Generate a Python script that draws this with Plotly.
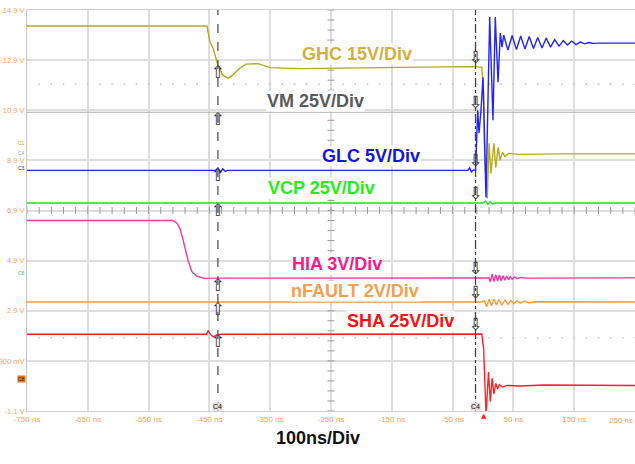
import numpy as np
import plotly.graph_objects as go

# ---------------- data (time in ns, value in screen volts) ----------------
x_tick_vals = [-750, -650, -550, -450, -350, -250, -150, -50, 50, 150]
x_tick_text = ["-750 ns", "-650 ns", "-550 ns", "-450 ns", "-350 ns", "-250 ns",
               "-150 ns", "-50 ns", "50 ns", "150 ns"]
x_edge_label = "250 ns"
y_tick_vals = [14.9, 12.9, 10.9, 8.9, 6.9, 4.9, 2.9, 0.9, -1.1]
y_tick_text = ["14.9 V", "12.9 V", "10.9 V", "8.9 V", "6.9 V", "4.9 V", "2.9 V", "900 mV", "-1.1 V"]

ghc_t = [-750, -454, -449, -444, -436, -428, -419, -412, -400, -390, -370, -350, -300,
         -200, -100, -20, -2, 1, 3, 7, 10, 13, 18, 21, 25, 28, 32, 36, 42, 60, 120, 250]
ghc_v = [14.26, 14.26, 13.62, 13.38, 12.7, 12.3, 12.18, 12.3, 12.58, 12.74, 12.76, 12.6, 12.56,
         12.6, 12.62, 12.64, 12.62, 11.58, 8.9, 7.38, 9.58, 8.38, 9.58, 8.62, 9.42, 8.9, 9.22,
         9.06, 9.18, 9.14, 9.16, 9.16]

vm_t = [-750, -300, 0, 250]
vm_v = [10.82, 10.82, 10.82, 10.82]

glc_t = [-750, -440, -436, -432, -428, -424, -420, -25, -22, -19, -16, -12.3, -8.7, -6.6,
         -3.3, 0, 4.9, 11, 16.4, 20.2, 24.7, 28.5, 31.3, 34, 41, 48, 55, 62, 69, 76, 83, 90,
         97, 104, 111, 118, 125, 132, 139, 146, 153, 160, 167, 174, 181, 195, 250]
glc_v = [8.5, 8.5, 8.6, 8.42, 8.56, 8.46, 8.5, 8.5, 8.6, 8.44, 8.52, 8.5, 10.9, 9.98,
         10.9, 12.22, 7.42, 14.62, 10.5, 14.62, 12.02, 13.98, 13.42, 13.9, 13.3, 13.88, 13.32,
         13.86, 13.34, 13.84, 13.36, 13.8, 13.38, 13.78, 13.42, 13.72, 13.46, 13.68, 13.5,
         13.66, 13.52, 13.62, 13.55, 13.6, 13.57, 13.58, 13.58]

vcp_t = [-750, 0, 4, 8, 12, 16, 20, 250]
vcp_v = [7.2, 7.2, 7.28, 7.14, 7.25, 7.16, 7.2, 7.2]

hia_t = [-750, -510, -503, -498, -494, -490, -485, -479, -471, -458, -440, 10, 12, 15, 18,
         21, 24, 27, 30, 33, 36, 39, 42, 45, 48, 52, 56, 62, 70, 250]
hia_v = [6.5, 6.5, 6.38, 6.15, 5.8, 5.4, 4.9, 4.47, 4.28, 4.19, 4.2, 4.21, 4.05, 4.36, 4.06,
         4.34, 4.08, 4.33, 4.1, 4.3, 4.12, 4.28, 4.14, 4.26, 4.16, 4.25, 4.18, 4.23, 4.2, 4.21]

nf_t = [-750, -2, 2, 6, 10, 14, 18, 22, 26, 31, 36, 41, 46, 51, 56, 61, 68, 76, 88, 250]
nf_v = [3.25, 3.25, 3.3, 3.06, 3.36, 3.1, 3.37, 3.14, 3.34, 3.13, 3.33, 3.16, 3.31, 3.18,
        3.3, 3.2, 3.28, 3.22, 3.26, 3.25]

sha_t = [-750, -455, -452, -447, -443, -438, -430, -12.3, -2, 1, 3.5, 5, 9, 12, 15, 18,
         21, 24, 27, 32, 40, 60, 100, 250]
sha_v = [1.96, 1.96, 2.1, 1.92, 1.86, 1.94, 1.96, 1.97, 1.97, 1.4, -1.0, -1.25, 0.45, -0.72,
         0.2, -0.42, 0.0, -0.22, -0.05, -0.14, -0.08, -0.1, -0.06, -0.08]

cursor_a = -436
cursor_b = -12.3
trigger_t = 2

channels = [
    # name, t, v, trace colour, label text, label colour, label t, label v
    ("GHC", ghc_t, ghc_v, "#b5aa1c", "GHC 15V/Div", "#d4b03c", -207, 13.14),
    ("VM", vm_t, vm_v, "#a9b0a9", "VM 25V/Div", "#5a5a5a", -275, 11.26),
    ("GLC", glc_t, glc_v, "#2222ff", "GLC 5V/Div", "#1414dc", -184, 9.06),
    ("VCP", vcp_t, vcp_v, "#22dd22", "VCP 25V/Div", "#22ee22", -265, 7.78),
    ("HIA", hia_t, hia_v, "#ff3399", "HIA 3V/Div", "#f0208c", -240, 4.78),
    ("nFAULT", nf_t, nf_v, "#ff9933", "nFAULT 2V/Div", "#f5a04e", -210, 3.70),
    ("SHA", sha_t, sha_v, "#ff2222", "SHA 25V/Div", "#ff1010", -136, 2.50),
]

fig = go.Figure()

# graticule decorations: center-line ticks and dotted rows
tick_t = np.arange(-750, 251, 20)
fig.add_trace(go.Scatter(x=tick_t, y=[6.9] * len(tick_t), mode="markers",
                         marker=dict(symbol="line-ns", size=5, line=dict(color="#9a9a9a", width=1)),
                         hoverinfo="skip", showlegend=False))
tick_v = np.arange(-1.1, 14.91, 0.4)
fig.add_trace(go.Scatter(x=[-250] * len(tick_v), y=tick_v, mode="markers",
                         marker=dict(symbol="line-ew", size=5, line=dict(color="#9a9a9a", width=1)),
                         hoverinfo="skip", showlegend=False))
dot_t = np.arange(-730, 251, 20)
for lvl in (11.94, 1.82):
    fig.add_trace(go.Scatter(x=dot_t, y=[lvl] * len(dot_t), mode="markers",
                             marker=dict(symbol="circle", size=1.8, color="#c4c4c4"),
                             hoverinfo="skip", showlegend=False))

for name, t, v, col, *_ in channels:
    fig.add_trace(go.Scatter(x=t, y=v, mode="lines", name=name,
                             line=dict(color=col, width=1.1 if name == "VM" else 1.4),
                             showlegend=False))

# cursors
fig.add_shape(type="line", xref="x", yref="paper", x0=cursor_a, x1=cursor_a, y0=0, y1=1,
              line=dict(color="#555555", width=1.3, dash="dash"))
fig.add_shape(type="line", xref="x", yref="paper", x0=cursor_b, x1=cursor_b, y0=0, y1=1,
              line=dict(color="#444444", width=1.3, dash="dashdot"))

# cursor arrows at each trace crossing
ya = [float(np.interp(cursor_a, c[1], c[2])) for c in channels]
yb = [float(np.interp(cursor_b, c[1], c[2])) for c in channels]
fig.add_trace(go.Scatter(x=[cursor_a] * len(ya), y=ya, mode="text", text=["⇧"] * len(ya),
                         textposition="bottom center",
                         textfont=dict(family="DejaVu Sans", size=17, color="#333333"),
                         hoverinfo="skip", showlegend=False))
fig.add_trace(go.Scatter(x=[cursor_b] * len(yb), y=yb, mode="text", text=["⇩"] * len(yb),
                         textposition="top center",
                         textfont=dict(family="DejaVu Sans", size=17, color="#333333"),
                         hoverinfo="skip", showlegend=False))

tickfont_y = dict(family="Liberation Sans Narrow, Arial Narrow, Liberation Sans", size=7.5, color="#f5a45a")
tickfont_x = dict(family="Liberation Sans Narrow, Arial Narrow, Liberation Sans", size=8, color="#f5a45a")

annotations = []
for name, t, v, col, label, lcol, lt, lv in channels:
    annotations.append(dict(x=lt, y=lv, xref="x", yref="y", text="<b>" + label + "</b>",
                            showarrow=False,
                            font=dict(family="Liberation Sans, Arial", size=18, color=lcol),
                            bgcolor="white", borderpad=0))
annotations.append(dict(x=0.478, y=-0.097, xref="paper", yref="paper", text="<b>100ns/Div</b>",
                        showarrow=False, font=dict(family="Liberation Sans, Arial", size=18, color="#111111")))
annotations.append(dict(x=1, y=0, xref="paper", yref="paper", text=x_edge_label, showarrow=False,
                        xanchor="right", yanchor="top", yshift=-3, font=tickfont_x))
for cx in (cursor_a, cursor_b):
    annotations.append(dict(x=cx, y=-1.1, xref="x", yref="y", text="C4", showarrow=False,
                            yshift=5, font=dict(family="Liberation Sans", size=7, color="#111111"),
                            bgcolor="#dddddd", borderpad=0))
annotations.append(dict(x=trigger_t, y=-1.1, xref="x", yref="y", text="▲", showarrow=False,
                        yshift=-5, font=dict(family="DejaVu Sans", size=7, color="#ff2020")))
# left-edge channel tags
for txt, lv, lc, bg in [("C1", 9.6, "#b5aa1c", None), ("C4", 9.2, "#a0a0a0", None),
                        ("C3", 8.6, "#2222ff", None), ("C6", 4.42, "#22cc22", None),
                        ("C8", 0.18, "#222222", "#e07a10")]:
    annotations.append(dict(x=0, y=lv, xref="paper", yref="y", text=txt, showarrow=False,
                            xanchor="right", xshift=-1,
                            font=dict(family="Liberation Sans", size=5, color=lc),
                            bgcolor=bg, borderpad=0))

fig.update_layout(
    width=635, height=464,
    margin=dict(l=27, r=0, t=10, b=53),
    paper_bgcolor="white", plot_bgcolor="white",
    annotations=annotations,
    xaxis=dict(range=[-750, 250], tickvals=x_tick_vals, ticktext=x_tick_text, tickfont=tickfont_x,
               showgrid=True, gridcolor="#dedede", gridwidth=1.5, zeroline=False, automargin=False,
               showline=True, linecolor="#d0d0d0", linewidth=1, mirror=True, ticks=""),
    yaxis=dict(range=[-1.1, 14.9], tickvals=y_tick_vals, ticktext=y_tick_text, tickfont=tickfont_y,
               showgrid=True, gridcolor="#dedede", gridwidth=1.5, zeroline=False, automargin=False,
               showline=True, linecolor="#c4c4c4", linewidth=1, mirror=True, ticks=""),
)

fig.write_html("out.html", config={"displayModeBar": False},
               post_script="document.body.style.margin='0';document.body.style.overflow='hidden';")
